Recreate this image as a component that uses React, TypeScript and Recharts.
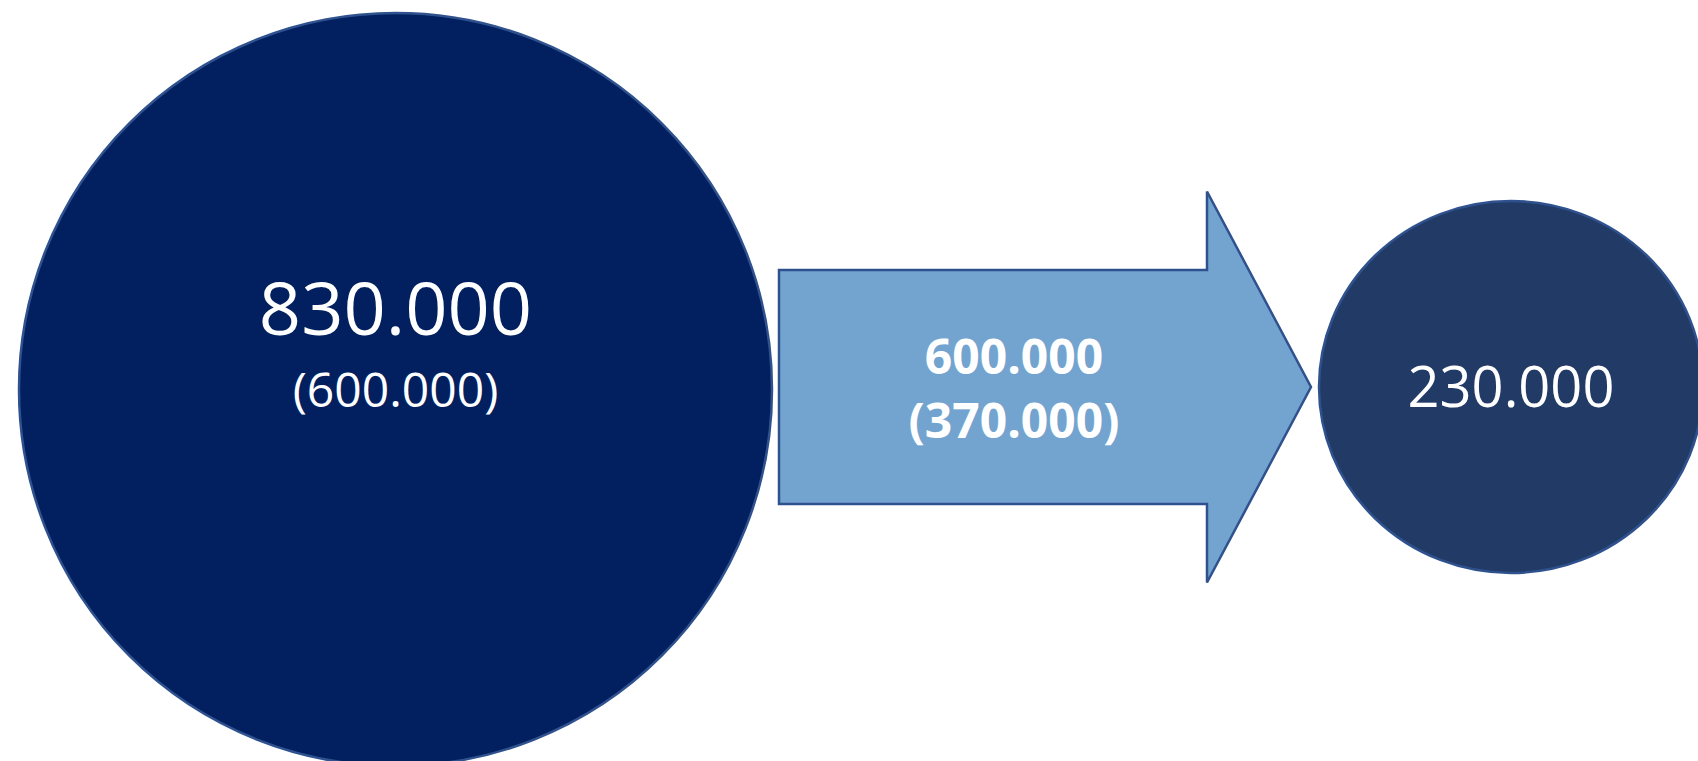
import React from "react";
import { ScatterChart, Scatter, XAxis, YAxis } from "recharts";

// stages of the flow, left to right
const stages = ["Bestand", "Abgang", "Rest"];
const amounts = [830000, 600000, 230000];
const previous: (number | null)[] = [600000, 370000, null];

// diagram layout (page px, mapped through the hidden axes)
const W = 1698;
const H = 761;
const stageX = [395.5, 1045, 1511];
const stageY = [389.5, 387, 387];
const stageRx = [376.5, 266, 192];
const stageRy = [376.5, 195.5, 186];

const fills = ["#02205f", "#73a4cf", "#223a66"];
const outline = "#2f528f";
const font = "'Open Sans', 'Noto Sans', sans-serif";

const fmt = (v: number) => String(v).replace(/\B(?=(\d{3})+(?!\d))/g, ".");

const data = stages.map((stage, i) => ({
  stage,
  x: stageX[i],
  y: stageY[i],
  rx: stageRx[i],
  ry: stageRy[i],
  amount: amounts[i],
  previous: previous[i],
  fill: fills[i],
}));

const Bubble = (props: any) => {
  const { cx, cy, payload } = props;
  const big = payload.previous != null;
  return (
    <g>
      <ellipse
        cx={cx}
        cy={cy}
        rx={payload.rx}
        ry={payload.ry}
        fill={payload.fill}
        stroke={outline}
        strokeWidth={2.5}
      />
      {big ? (
        <>
          <text x={cx} y={cy - 54.5} textAnchor="middle" fill="#fff" fontSize={74} fontFamily={font}>
            {fmt(payload.amount)}
          </text>
          <text x={cx} y={cy + 17.5} textAnchor="middle" fill="#fff" fontSize={48} fontFamily={font}>
            ({fmt(payload.previous)})
          </text>
        </>
      ) : (
        <text x={cx} y={cy + 20} textAnchor="middle" fill="#fff" fontSize={56} fontFamily={font}>
          {fmt(payload.amount)}
        </text>
      )}
    </g>
  );
};

const Arrow = (props: any) => {
  const { cx, cy, payload } = props;
  const hw = payload.rx; // half length
  const hh = payload.ry; // half height of the head
  const shaft = 117;
  const head = 104;
  const l = cx - hw;
  const r = cx + hw;
  const b = r - head;
  const pts = [
    [l, cy - shaft],
    [b, cy - shaft],
    [b, cy - hh],
    [r, cy],
    [b, cy + hh],
    [b, cy + shaft],
    [l, cy + shaft],
  ]
    .map((p) => p.join(","))
    .join(" ");
  return (
    <g>
      <polygon points={pts} fill={payload.fill} stroke={outline} strokeWidth={2.5} />
      <text x={cx - 31} y={cy - 13} textAnchor="middle" fill="#fff" fontSize={48} fontWeight={700} fontFamily={font}>
        {fmt(payload.amount)}
      </text>
      <text x={cx - 31} y={cy + 51} textAnchor="middle" fill="#fff" fontSize={48} fontWeight={700} fontFamily={font}>
        ({fmt(payload.previous)})
      </text>
    </g>
  );
};

export default function App() {
  return (
    <div style={{ width: W, height: H, overflow: "hidden", background: "#fff" }}>
      <style>{`body{margin:0}`}</style>
      <ScatterChart width={W} height={H} margin={{ top: 0, right: 0, bottom: 0, left: 0 }}>
        <XAxis type="number" dataKey="x" domain={[0, W]} hide />
        <YAxis type="number" dataKey="y" domain={[0, H]} reversed hide />
        <Scatter data={[data[0], data[2]]} shape={Bubble} isAnimationActive={false} />
        <Scatter data={[data[1]]} shape={Arrow} isAnimationActive={false} />
      </ScatterChart>
    </div>
  );
}
